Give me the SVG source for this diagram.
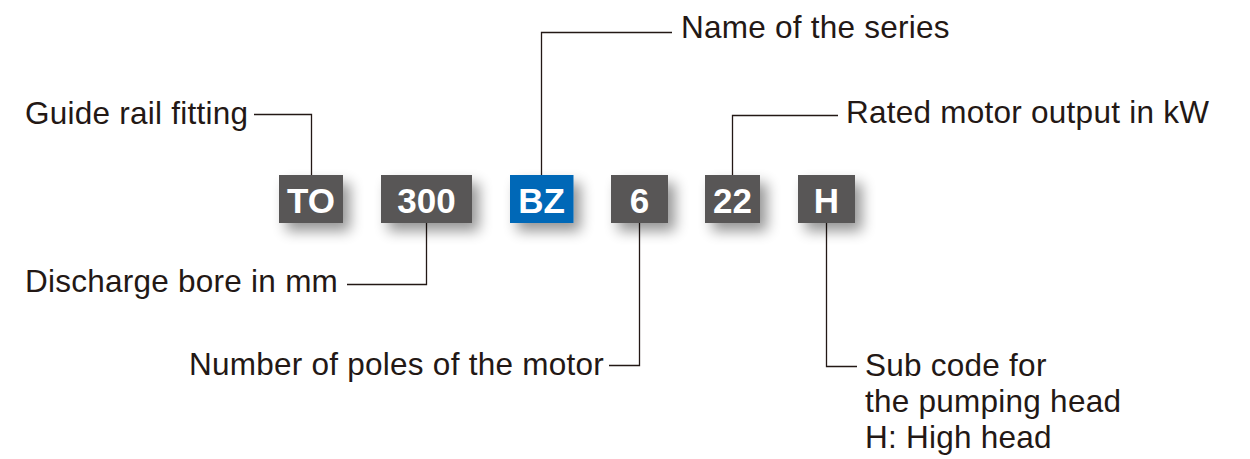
<svg xmlns="http://www.w3.org/2000/svg" width="1250" height="459" viewBox="0 0 1250 459">
<defs>
<filter id="sh" x="-40%" y="-40%" width="200%" height="220%">
<feGaussianBlur in="SourceAlpha" stdDeviation="7"/>
<feOffset dx="7" dy="8" result="b"/>
<feComponentTransfer><feFuncA type="linear" slope="0.42"/></feComponentTransfer>
<feMerge><feMergeNode/><feMergeNode in="SourceGraphic"/></feMerge>
</filter>
<style>
.box{fill:#595757;filter:url(#sh)}
.blue{fill:#0068b7}
.bt{font-family:"Liberation Sans",Arial,sans-serif;font-weight:bold;font-size:35px;fill:#fff;text-anchor:middle}
.lb{font-family:"Liberation Sans",Arial,sans-serif;font-size:31.5px;letter-spacing:0.25px;fill:#231815}
.ln{fill:none;stroke:#231815;stroke-width:1.3}
</style>
</defs>
<rect width="1250" height="459" fill="#fff"/>
<g id="connectors">
<polyline class="ln" points="254,114.5 311.5,114.5 311.5,175"/>
<polyline class="ln" points="672,32.5 541.5,32.5 541.5,175"/>
<polyline class="ln" points="838,115.5 732.5,115.5 732.5,175"/>
<polyline class="ln" points="426.5,223 426.5,284.5 347,284.5"/>
<polyline class="ln" points="639.5,223 639.5,365.5 609,365.5"/>
<polyline class="ln" points="826.5,223 826.5,366.5 857,366.5"/>
</g>
<g id="node-TO"><rect class="box" x="279" y="175" width="64" height="48"/><text class="bt" x="311" y="212.5">TO</text></g>
<g id="node-300"><rect class="box" x="381" y="175" width="91" height="48"/><text class="bt" x="426.5" y="212.5">300</text></g>
<g id="node-BZ"><rect class="box blue" x="510" y="175" width="63.5" height="48"/><text class="bt" x="541.5" y="212.5">BZ</text></g>
<g id="node-6"><rect class="box" x="611" y="175" width="57" height="48"/><text class="bt" x="639.5" y="212.5">6</text></g>
<g id="node-22"><rect class="box" x="705" y="175" width="55" height="48"/><text class="bt" x="732.5" y="212.5">22</text></g>
<g id="node-H"><rect class="box" x="798" y="175" width="57" height="48"/><text class="bt" x="826.5" y="212.5">H</text></g>
<g id="label-guide"><text class="lb" x="25" y="124">Guide rail fitting</text></g>
<g id="label-series"><text class="lb" x="681" y="38">Name of the series</text></g>
<g id="label-rated"><text class="lb" x="846" y="123">Rated motor output in kW</text></g>
<g id="label-discharge"><text class="lb" x="25" y="292">Discharge bore in mm</text></g>
<g id="label-poles"><text class="lb" x="189" y="375">Number of poles of the motor</text></g>
<g id="label-sub"><text class="lb" x="865" y="376">Sub code for</text><text class="lb" x="865" y="412">the pumping head</text><text class="lb" x="865" y="448">H: High head</text></g>
</svg>
